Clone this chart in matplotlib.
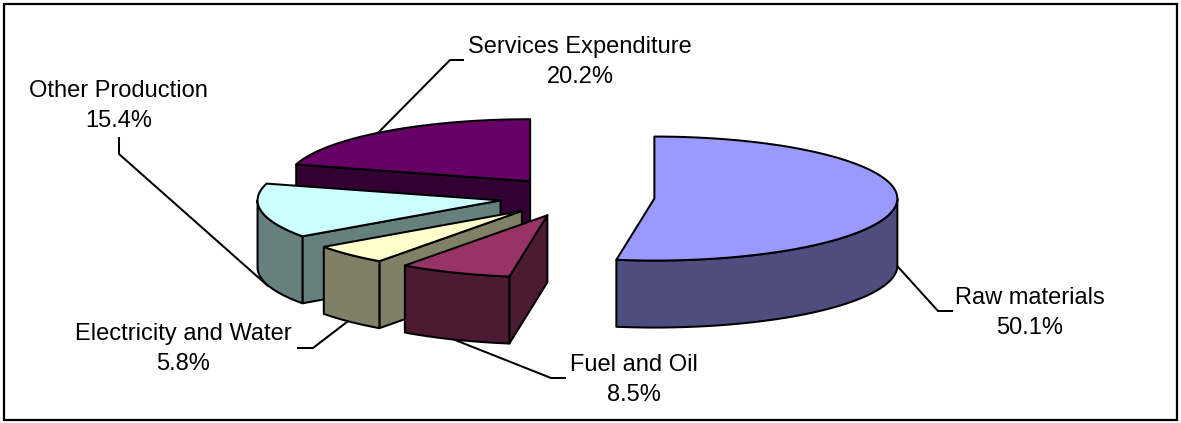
import numpy as np
from matplotlib import pyplot as plt

plt.rcParams["font.family"] = ["Liberation Sans", "DejaVu Sans"]

# clockwise from 12 o'clock, same order as the sheet
names = ["Raw materials", "Fuel and Oil", "Electricity and Water", "Other Production", "Services Expenditure"]
shares = [50.1, 8.5, 5.8, 15.4, 20.2]
tops = ["#9999FF", "#993366", "#FFFFCC", "#CCFFFF", "#660066"]
walls = ["#4D4D80", "#4D1A33", "#808066", "#668080", "#330033"]

# excel's 3d view bends the angles a bit near the front
view_true = [0, 180.36, 210.96, 231.84, 287.28, 360]
view_drawn = [0, 189, 215.9, 234.6, 285.7, 360]

cx, cy = 577, 197
rx, ry = 243, 62
depth = 67
explode = 77.6
lw = 1.45

label_pos = [(1030, 313), (634, 380), (183, 349), (118.5, 106), (580, 62)]
leaders = [
    [(890, 258), (938, 311), (952, 311)],
    [(440, 334), (551, 378), (565, 378)],
    [(298, 348), (313, 348), (360, 312)],
    [(119, 138), (119, 154), (268, 286)],
    [(370, 141), (450, 60), (463, 60)],
]


def ring(a1, a2, x0, y0):
    a = np.radians(np.linspace(a1, a2, 80))
    return x0 + rx * np.sin(a), y0 - ry * np.cos(a)


fig = plt.figure(figsize=(11.81, 4.23), dpi=100)
ax = fig.add_axes([0, 0, 1, 1])
ax.set_xlim(0, 1181)
ax.set_ylim(423, 0)
ax.axis("off")

ax.add_patch(plt.Rectangle((4, 4), 1173, 416, fc="white", ec="black", lw=1.6))

for line in leaders:
    xs, ys = zip(*line)
    ax.plot(xs, ys, color="black", lw=lw, zorder=1)

edges = np.interp(np.cumsum([0] + shares) * 3.6, view_true, view_drawn)

# back to front so the near slices cover the far ones
z = 2
for i in [4, 3, 2, 1, 0]:
    a1, a2 = edges[i], edges[i + 1]
    mid = np.radians((a1 + a2) / 2)
    x0 = cx + explode * np.sin(mid)
    y0 = cy - explode * ry / rx * np.cos(mid)
    style = dict(ec="black", lw=lw, joinstyle="round", zorder=z)

    # cut face behind the start edge
    if 180 <= a1 < 360:
        xe, ye = ring(a1, a1, x0, y0)
        ax.fill([x0, xe[0], xe[0], x0], [y0, ye[0], ye[0] + depth, y0 + depth], fc=walls[i], **style)

    # rim, only the part that faces us
    b1, b2 = max(a1, 90), min(a2, 270)
    if b1 < b2:
        xa, ya = ring(b1, b2, x0, y0)
        ax.fill(np.r_[xa, xa[::-1]], np.r_[ya, ya[::-1] + depth], fc=walls[i], **style)

    xa, ya = ring(a1, a2, x0, y0)
    ax.fill(np.r_[x0, xa], np.r_[y0, ya], fc=tops[i], **style)
    z += 1

for name, share, pos in zip(names, shares, label_pos):
    ax.text(pos[0], pos[1], "{}\n{:.1f}%".format(name, share), ha="center", va="center",
            fontsize=17, linespacing=1.45, color="black", zorder=10)

fig.savefig("out.png", dpi=100)
